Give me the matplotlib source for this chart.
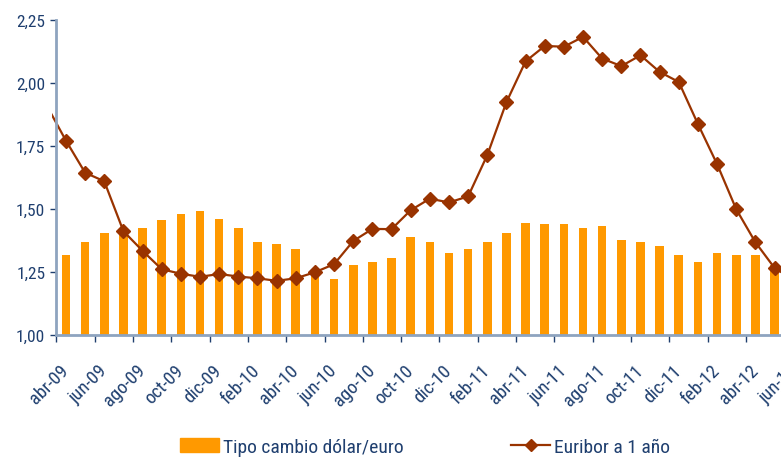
import numpy as np
import matplotlib
matplotlib.use("Agg")
import matplotlib.pyplot as plt
from matplotlib.lines import Line2D
from matplotlib.patches import Patch

plt.rcParams["font.family"] = ["Roboto Condensed", "Liberation Sans", "DejaVu Sans"]

# ---------------------------------------------------------------- datos

meses = ["abr-09", "may-09", "jun-09", "jul-09", "ago-09", "sep-09", "oct-09", "nov-09",
         "dic-09", "ene-10", "feb-10", "mar-10", "abr-10", "may-10", "jun-10", "jul-10",
         "ago-10", "sep-10", "oct-10", "nov-10", "dic-10", "ene-11", "feb-11", "mar-11",
         "abr-11", "may-11", "jun-11", "jul-11", "ago-11", "sep-11", "oct-11", "nov-11",
         "dic-11", "ene-12", "feb-12", "mar-12", "abr-12", "may-12", "jun-12"]

# tipo de cambio dólar/euro (barras)
tipo_cambio = [1.319, 1.368, 1.403, 1.409, 1.426, 1.458, 1.481, 1.494, 1.461, 1.426,
               1.369, 1.361, 1.341, 1.252, 1.222, 1.278, 1.290, 1.305, 1.389, 1.369,
               1.325, 1.341, 1.369, 1.405, 1.444, 1.440, 1.440, 1.425, 1.433, 1.377,
               1.369, 1.353, 1.317, 1.290, 1.325, 1.317, 1.317, 1.277, 1.253]

# euribor a 1 año (línea); el primer valor es mar-09, que queda fuera del eje
euribor = [1.910, 1.771, 1.644, 1.610, 1.412, 1.334, 1.261, 1.243, 1.231, 1.242,
           1.232, 1.225, 1.215, 1.225, 1.249, 1.281, 1.373, 1.421, 1.420, 1.495,
           1.541, 1.526, 1.550, 1.714, 1.924, 2.086, 2.147, 2.144, 2.183, 2.097,
           2.067, 2.110, 2.044, 2.004, 1.837, 1.678, 1.499, 1.368, 1.266, 1.219]

yticks = [1.00, 1.25, 1.50, 1.75, 2.00, 2.25]
ytick_labels = ["1,00", "1,25", "1,50", "1,75", "2,00", "2,25"]

NAVY = "#1F3F6F"
SPINE = "#8EA4BF"
ORANGE = "#FF9900"
BROWN = "#993300"

# ---------------------------------------------------------------- figura

W, H = 781, 460
fig = plt.figure(figsize=(W / 100, H / 100), dpi=100)

n = len(meses)
x_left, x_right = -0.75, n - 0.5
px_left, px_right = 51.6, 66 + (n - 0.5) * 19.15
ax = fig.add_axes([px_left / W, (H - 336) / H, (px_right - px_left) / W, (336 - 21) / H])

x = np.arange(n)
xe = np.arange(-1, n)
ax.bar(x, tipo_cambio, width=0.45, color=ORANGE, zorder=2)
ax.plot(xe, euribor, color=BROWN, lw=1.6, zorder=3)
ax.plot(xe[1:], euribor[1:], ls="none", marker="D", ms=7, mec=BROWN, mfc=BROWN, zorder=3)

ax.set_xlim(x_left, x_right)
ax.set_ylim(1.0, 2.25)

for s in ("top", "right"):
    ax.spines[s].set_visible(False)
ax.spines["left"].set_position(("data", -0.5))
ax.spines["bottom"].set_bounds(-0.5, x_right)
for s in ("left", "bottom"):
    ax.spines[s].set_color(SPINE)
    ax.spines[s].set_linewidth(2)
    ax.spines[s].set_zorder(4)

ax.set_yticks(yticks, ytick_labels)
ax.tick_params(axis="y", length=4, width=1, color=NAVY, pad=4, labelsize=12.5, labelcolor=NAVY)

# marcas en los límites cada dos meses, etiquetas en el centro
ax.set_xticks(np.arange(-0.5, n, 2), minor=True)
ax.tick_params(axis="x", which="minor", length=5, width=1, color=NAVY)
ax.set_xticks(x[::2], meses[::2])
ax.tick_params(axis="x", which="major", length=0, pad=23, labelsize=13.5, labelcolor=NAVY)
for lab in ax.get_xticklabels():
    lab.set_rotation(45)
    lab.set_ha("right")
    lab.set_va("center")
    lab.set_rotation_mode("anchor")

handles = [Patch(color=ORANGE),
           Line2D([], [], color=BROWN, lw=1.6, marker="D", ms=6)]
fig.legend(handles, ["Tipo cambio dólar/euro", "Euribor a 1 año"], ncol=2,
           loc="center", bbox_to_anchor=(425 / W, 1 - 448 / H), frameon=False,
           fontsize=14, labelcolor=NAVY, handlelength=2.0, handletextpad=0.2,
           columnspacing=5.55)

fig.savefig("out.png", dpi=100)
